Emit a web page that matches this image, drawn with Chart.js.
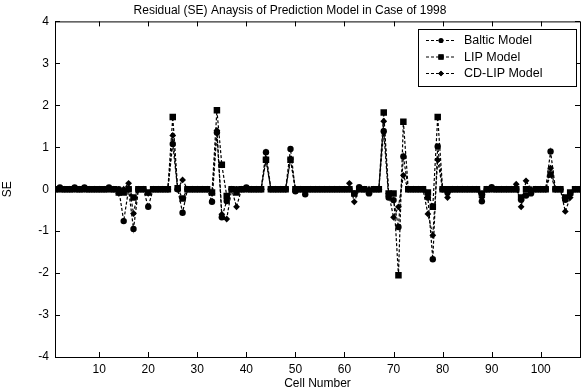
<!DOCTYPE html>
<html>
<head>
<meta charset="utf-8">
<script src="https://cdn.jsdelivr.net/npm/chart.js"></script>
<style>
  html, body { margin: 0; padding: 0; background: #fff; }
  #wrap { width: 586px; height: 392px; }
</style>
</head>
<body>
<div id="wrap"><canvas id="seChart" width="586" height="392"></canvas></div>
<script>
// cell numbers 1..108 (x categories)
const cells = Array.from({ length: 108 }, (_, i) => i + 1);
const xTicks = [10, 20, 30, 40, 50, 60, 70, 80, 90, 100];
const yTicks = [-4, -3, -2, -1, 0, 1, 2, 3, 4];

// residuals, one value per cell
const baltic = [
  0, 0.04, 0, 0, 0.04, 0, 0.04, 0, 0, 0,
  0, 0.04, 0, 0, -0.76, 0, -0.95, 0, 0, -0.42,
  0, 0, 0, 0, 1.08, 0, -0.56, 0, 0, 0,
  0, 0, -0.3, 1.35, -0.67, -0.28, 0, 0, 0, 0.04,
  0, 0, 0, 0.88, 0, 0, 0, 0, 0.96, -0.05,
  0, -0.12, 0, 0, 0, 0, 0, 0, 0, 0,
  0, -0.1, 0.05, 0, -0.1, 0, 0, 1.38, -0.2, -0.26,
  -0.9, 0.78, 0, 0, 0, 0, -0.2, -1.67, 1.02, 0,
  -0.08, 0, 0, 0, 0, 0, 0, -0.29, 0, 0.05,
  0, 0, 0, 0, 0, -0.25, -0.15, -0.1, 0, 0,
  0, 0.9, 0, 0, -0.25, -0.1, 0, 0
];
const lip = [
  0, 0, 0, 0, 0, 0, 0, 0, 0, 0,
  0, 0, 0, -0.08, -0.08, 0, -0.2, 0, 0, -0.08,
  0, 0, 0, 0, 1.72, 0.02, -0.22, 0, 0, 0,
  0, 0, -0.08, 1.88, 0.58, -0.16, 0, -0.08, 0, 0,
  0, 0, 0, 0.7, 0, 0, 0, 0, 0.7, 0,
  0, 0, 0, 0, 0, 0, 0, 0, 0, 0,
  0, -0.1, 0, 0, -0.05, 0, 0, 1.83, -0.1, -0.1,
  -2.05, 1.61, 0, 0, 0, 0, -0.08, -0.42, 1.72, 0,
  0, 0, 0, 0, 0, 0, 0, -0.1, 0, 0,
  0, 0, 0, 0, 0, -0.2, 0, -0.05, 0, 0,
  0, 0.35, 0, 0, -0.2, -0.08, 0, 0
];
const cdLip = [
  0, 0, 0, 0, 0, 0, 0, 0, 0, 0,
  0, 0, 0, -0.1, 0, 0.14, -0.58, 0, 0, -0.1,
  0, 0, 0, 0, 1.28, 0, 0.22, 0, 0, 0,
  0, 0, -0.1, 1.4, -0.6, -0.71, 0, -0.42, 0, 0,
  0, 0, 0, 0.72, 0, 0, 0, 0, 0.72, 0,
  0, -0.05, 0, 0, 0, 0, 0, 0, 0, 0,
  0.14, -0.3, 0, 0, 0, 0, 0, 1.62, -0.1, -0.67,
  -0.42, 0.33, 0, 0, 0, 0, -0.59, -1.1, 0.7, 0,
  -0.2, 0, 0, 0, 0, 0, 0, -0.2, 0, 0,
  0, 0, 0, 0, 0.12, -0.42, 0.2, 0, 0, 0,
  0, 0.5, 0, 0, -0.53, -0.2, 0, 0
];

const FONT = "'Liberation Sans', Arial, sans-serif";

const toPoints = (vals) => cells.map((c, i) => ({ x: c, y: vals[i] }));

const series = (label, vals, style, radius) => ({
  label,
  data: toPoints(vals),
  borderColor: "#000",
  borderWidth: 1.2,
  borderDash: [3, 2],
  backgroundColor: "#000",
  pointStyle: style,
  pointRadius: radius,
  pointBackgroundColor: "#000",
  pointBorderColor: "#000",
  pointBorderWidth: 0,
  tension: 0,
  fill: false,
});

// box around the axes, inward ticks on all four sides, legend inside
const matlabFrame = {
  id: "matlabFrame",
  afterDraw(chart) {
    const { ctx, chartArea: a, scales } = chart;
    ctx.save();
    ctx.strokeStyle = "#000";
    ctx.lineWidth = 1;
    ctx.setLineDash([]);
    ctx.strokeRect(a.left + 0.5, a.top + 0.5, a.right - a.left, a.bottom - a.top);

    const len = 5;
    ctx.beginPath();
    xTicks.forEach((v) => {
      const px = Math.round(scales.x.getPixelForValue(v)) + 0.5;
      ctx.moveTo(px, a.bottom); ctx.lineTo(px, a.bottom - len);
      ctx.moveTo(px, a.top); ctx.lineTo(px, a.top + len);
    });
    yTicks.forEach((v) => {
      const py = Math.round(scales.y.getPixelForValue(v)) + 0.5;
      ctx.moveTo(a.left, py); ctx.lineTo(a.left + len, py);
      ctx.moveTo(a.right, py); ctx.lineTo(a.right - len, py);
    });
    ctx.stroke();

    // legend
    const box = { left: 418, top: 29, width: 158, height: 57 };
    ctx.fillStyle = "#fff";
    ctx.fillRect(box.left, box.top, box.width, box.height);
    ctx.strokeRect(box.left + 0.5, box.top + 0.5, box.width, box.height);
    ctx.font = "12.5px " + FONT;
    ctx.textBaseline = "middle";
    chart.data.datasets.forEach((ds, i) => {
      const y = box.top + 11 + i * 16.5;
      ctx.setLineDash([3, 2]);
      ctx.beginPath();
      ctx.moveTo(box.left + 8, y + 0.5);
      ctx.lineTo(box.left + 38, y + 0.5);
      ctx.stroke();
      ctx.setLineDash([]);
      Chart.helpers.drawPoint(ctx, {
        pointStyle: ds.pointStyle,
        radius: ds.pointRadius * 0.8,
        rotation: 0,
        borderWidth: 0,
      }, box.left + 23, y + 0.5);
      ctx.fillStyle = "#000";
      ctx.fill();
      ctx.fillText(ds.label, box.left + 46, y + 1);
    });
    ctx.restore();
  },
};

new Chart(document.getElementById("seChart"), {
  type: "line",
  data: {
    datasets: [
      series("Baltic Model", baltic, "circle", 3.2),
      series("LIP Model", lip, "rect", 4.6),
      series("CD-LIP Model", cdLip, "rectRot", 3.4),
    ],
  },
  options: {
    responsive: false,
    animation: false,
    layout: { padding: { left: 0, right: 6, top: 0, bottom: 0 } },
    plugins: {
      legend: { display: false },
      tooltip: { enabled: false },
      title: {
        display: true,
        text: "Residual (SE) Anaysis of Prediction Model in Case of 1998",
        color: "#000",
        font: { family: FONT, size: 12, weight: "normal" },
        padding: { top: 3, bottom: 4 },
      },
    },
    scales: {
      x: {
        type: "linear",
        min: 1,
        max: 108,
        afterBuildTicks: (axis) => { axis.ticks = xTicks.map((v) => ({ value: v })); },
        afterFit: (axis) => { axis.height = 35; },
        grid: { display: false, drawTicks: false },
        border: { display: false },
        ticks: { color: "#000", padding: 5, maxRotation: 0, font: { family: FONT, size: 12 } },
        title: {
          display: true,
          text: "Cell Number",
          color: "#000",
          font: { family: FONT, size: 12 },
          padding: { top: 0, bottom: 1 },
        },
      },
      y: {
        min: -4,
        max: 4,
        afterBuildTicks: (axis) => { axis.ticks = yTicks.map((v) => ({ value: v })); },
        afterFit: (axis) => { axis.width = 55; },
        grid: { display: false, drawTicks: false },
        border: { display: false },
        ticks: { color: "#000", padding: 6, font: { family: FONT, size: 12 } },
        title: {
          display: true,
          text: "SE",
          color: "#000",
          font: { family: FONT, size: 12 },
          padding: { top: 0, bottom: 4 },
        },
      },
    },
  },
  plugins: [matlabFrame],
});
</script>
</body>
</html>
